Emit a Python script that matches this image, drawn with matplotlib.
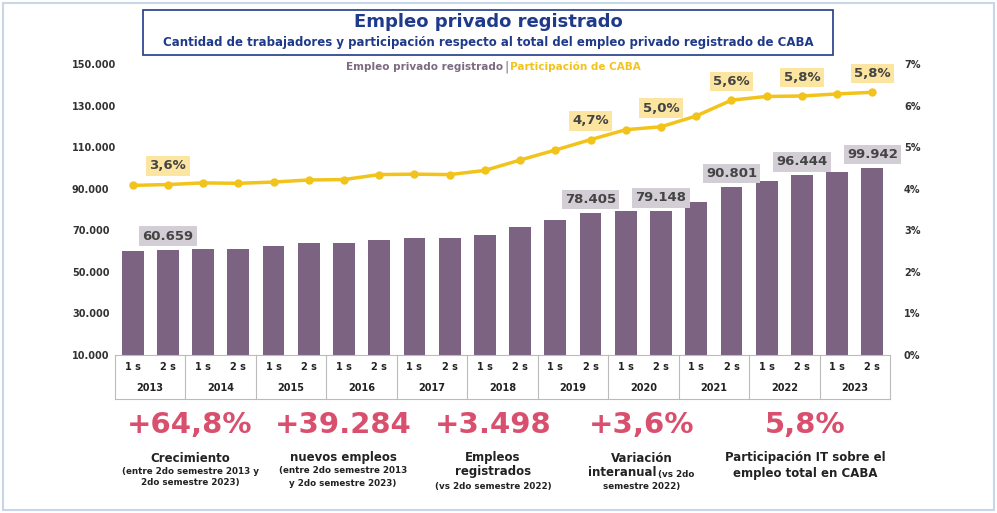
import matplotlib.pyplot as plt
from matplotlib.patches import Rectangle

years = ['2013', '2014', '2015', '2016', '2017', '2018', '2019', '2020', '2021', '2022', '2023']
semestres = ['1 s', '2 s'] * len(years)
empleo = [60000, 60659, 61000, 61100, 62200, 63800, 63800, 65500, 66200, 66200, 67900,
          71800, 75000, 78405, 79500, 79148, 83400, 90801, 93500, 96444, 98200, 99942]
participacion = [4.08, 4.10, 4.14, 4.13, 4.16, 4.21, 4.22, 4.34, 4.35, 4.34, 4.44,
                 4.69, 4.93, 5.18, 5.42, 5.49, 5.75, 6.13, 6.22, 6.23, 6.28, 6.32]
idx_labels = [1, 13, 15, 17, 19, 21]
empleo_labels = ['60.659', '78.405', '79.148', '90.801', '96.444', '99.942']
part_labels = ['3,6%', '4,7%', '5,0%', '5,6%', '5,8%', '5,8%']
kpi_values = ['+64,8%', '+39.284', '+3.498', '+3,6%', '5,8%']

BAR = '#7b6381'
GOLD = '#f2c31a'
NAVY = '#1f3a8a'
PINK = '#d9506f'
DARK = '#222222'

fig = plt.figure(figsize=(9.97, 5.13), dpi=100)
fig.patches.append(Rectangle((0.003, 0.005), 0.994, 0.99, transform=fig.transFigure,
                             fill=False, ec='#c9d6ea', lw=1.5))
fig.patches.append(Rectangle((143 / 997, 1 - 55 / 513), 690 / 997, 45 / 513, transform=fig.transFigure,
                             fill=True, fc='white', ec=NAVY, lw=1.2, zorder=3))
fig.text(488 / 997, 1 - 22 / 513, 'Empleo privado registrado', ha='center', va='center',
         fontsize=13, fontweight='bold', color=NAVY, zorder=4)
fig.text(488 / 997, 1 - 43 / 513,
         'Cantidad de trabajadores y participación respecto al total del empleo privado registrado de CABA',
         ha='center', va='center', fontsize=8.5, fontweight='bold', color=NAVY, zorder=4)

ax = fig.add_axes([115 / 997, 1 - 355 / 513, 775 / 997, 291 / 513])
x = list(range(len(empleo)))
ax.bar(x, empleo, width=0.62, color=BAR, bottom=0)
ax.set_ylim(10000, 150000)
ax.set_xlim(-0.5, len(empleo) - 0.5)
ax.set_yticks(range(10000, 150001, 20000))
ax.set_yticklabels([f'{v:,}'.replace(',', '.') for v in range(10000, 150001, 20000)],
                   fontsize=7, fontweight='bold', color='#333333')
ax.set_xticks([])
for s in ['top', 'right', 'left']:
    ax.spines[s].set_visible(False)
ax.spines['bottom'].set_color('#bbbbbb')
ax.tick_params(axis='y', length=0, pad=31)
for lab in ax.get_yticklabels():
    lab.set_horizontalalignment('left')
for i, t in zip(idx_labels, empleo_labels):
    ax.text(i, empleo[i] + 6500, t, ha='center', va='center', fontsize=9.5, fontweight='bold',
            color='#444444', bbox=dict(boxstyle='square,pad=0.25', fc='#d3ced6', ec='none'))

ax2 = ax.twinx()
ax2.plot(x, participacion, color=GOLD, lw=2.5, marker='o', ms=5)
ax2.set_ylim(0, 7)
ax2.set_yticks(range(0, 8))
ax2.set_yticklabels([f'{v}%' for v in range(0, 8)], fontsize=7, fontweight='bold', color='#333333')
ax2.tick_params(axis='y', length=0, pad=10)
for s in ax2.spines.values():
    s.set_visible(False)
for i, t in zip(idx_labels, part_labels):
    ax2.text(i, participacion[i] + 0.45, t, ha='center', va='center', fontsize=9.5, fontweight='bold',
             color='#444444', bbox=dict(boxstyle='square,pad=0.25', fc='#fbe5a0', ec='none'))

fig.text(0.505, 1 - 67 / 513, 'Empleo privado registrado', ha='right', va='center',
         fontsize=7.5, fontweight='bold', color='#7b6a80')
fig.text(0.508, 1 - 67 / 513, '|', ha='center', va='center', fontsize=9, color='#7b6a80')
fig.text(0.512, 1 - 67 / 513, 'Participación de CABA', ha='left', va='center',
         fontsize=7.5, fontweight='bold', color=GOLD)

# tabla del eje x
r1, r2 = -0.08, -0.15
for i, s in enumerate(semestres):
    ax.text(i, (0 + r1) / 2, s, transform=ax.get_xaxis_transform(), ha='center', va='center',
            fontsize=7, fontweight='bold', color=DARK)
for k, y in enumerate(years):
    ax.text(2 * k + 0.5, (r1 + r2) / 2, y, transform=ax.get_xaxis_transform(), ha='center', va='center',
            fontsize=7, fontweight='bold', color=DARK)
for k in range(len(years) + 1):
    ax.plot([2 * k - 0.5] * 2, [0, r2], transform=ax.get_xaxis_transform(), color='#bbbbbb',
            lw=0.8, clip_on=False)
ax.plot([-0.5, len(empleo) - 0.5], [r2, r2], transform=ax.get_xaxis_transform(), color='#bbbbbb',
        lw=0.8, clip_on=False)

# indicadores
kx = [190, 343, 493, 642, 805]
for xx, v in zip(kx, kpi_values):
    fig.text(xx / 997, 1 - 425 / 513, v, ha='center', va='center', fontsize=21, fontweight='bold', color=PINK)


def txt(px, py, s, size=8.5, ha='center'):
    fig.text(px / 997, 1 - py / 513, s, ha=ha, va='center', fontsize=size, fontweight='bold', color=DARK)


txt(190, 458, 'Crecimiento')
txt(190, 471, '(entre 2do semestre 2013 y', 6.3)
txt(190, 483, '2do semestre 2023)', 6.3)
txt(343, 458, 'nuevos empleos')
txt(343, 471, '(entre 2do semestre 2013', 6.3)
txt(343, 483, 'y 2do semestre 2023)', 6.3)
txt(493, 458, 'Empleos')
txt(493, 472, 'registrados')
txt(493, 486, '(vs 2do semestre 2022)', 6.3)
txt(642, 458, 'Variación')
txt(656, 473, 'interanual', 8.5, 'right')
txt(658, 474, '(vs 2do', 6.3, 'left')
txt(642, 486, 'semestre 2022)', 6.3)
txt(805, 458, 'Participación IT sobre el')
txt(805, 473, 'empleo total en CABA')

fig.savefig('out.png', dpi=100)
